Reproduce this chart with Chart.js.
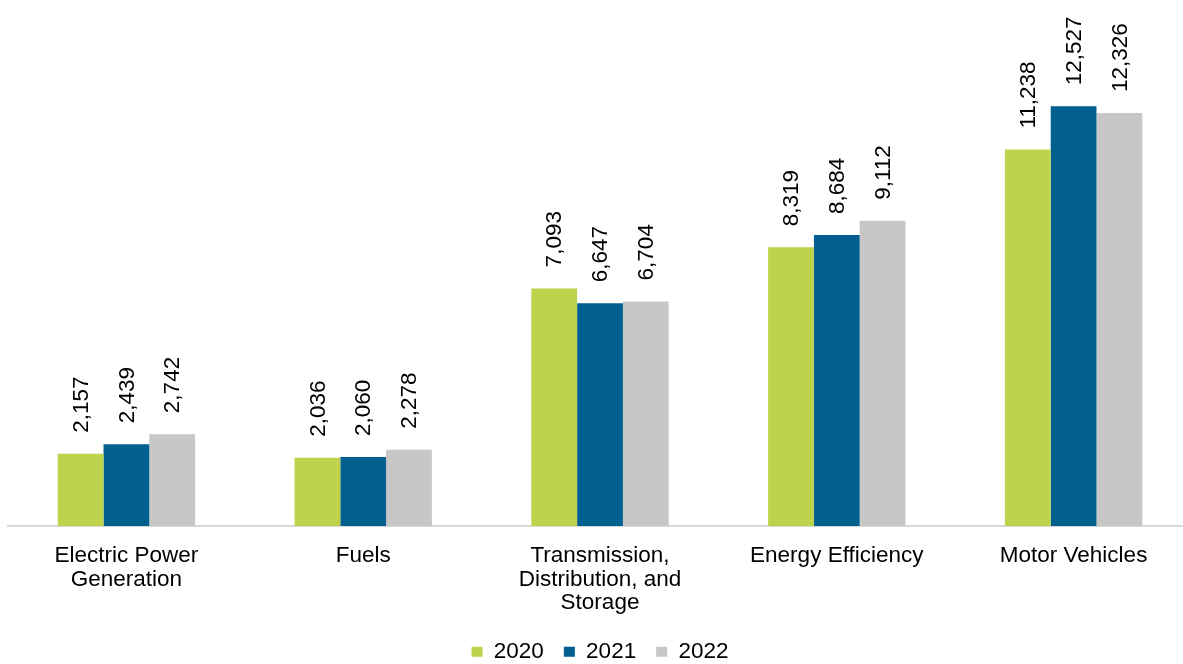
<!DOCTYPE html>
<html>
<head>
<meta charset="utf-8">
<script src="https://cdn.jsdelivr.net/npm/chart.js@4"></script>
<style>
  html, body { margin: 0; padding: 0; background: #fff; overflow: hidden; }
  #wrap { width: 1183px; height: 664px; overflow: hidden; position: relative; }
  #box { position: absolute; left: 0; top: 0; width: 1200px; height: 673px; }
</style>
</head>
<body>
<div id="wrap"><div id="box"><canvas id="chart"></canvas></div></div>
<script>
var categories = [
  ["Electric Power", "Generation"],
  "Fuels",
  ["Transmission,", "Distribution, and", "Storage"],
  "Energy Efficiency",
  "Motor Vehicles"
];
var years = ["2020", "2021", "2022"];
var values2020 = [2157, 2036, 7093, 8319, 11238];
var values2021 = [2439, 2060, 6647, 8684, 12527];
var values2022 = [2742, 2278, 6704, 9112, 12326];
var colors = ["#BDD34B", "#01608F", "#C8C7C6"];

// value labels, rotated, above each bar
var barLabels = {
  id: 'barLabels',
  afterDatasetsDraw: function (chart) {
    var ctx = chart.ctx;
    ctx.save();
    ctx.font = '22.5px "Liberation Sans", Arial, sans-serif';
    ctx.fillStyle = '#000';
    ctx.textAlign = 'left';
    ctx.textBaseline = 'middle';
    chart.data.datasets.forEach(function (ds, i) {
      chart.getDatasetMeta(i).data.forEach(function (bar, j) {
        ctx.save();
        ctx.translate(bar.x + 1, bar.y - 21);
        ctx.rotate(-Math.PI / 2);
        ctx.fillText(ds.data[j].toLocaleString('en-US'), 0, 0);
        ctx.restore();
      });
    });
    ctx.restore();
  }
};

var ctx = document.getElementById("chart");

new Chart(ctx, {
  type: 'bar',
  data: {
    labels: categories,
    datasets: [
      { label: years[0], data: values2020, backgroundColor: colors[0] },
      { label: years[1], data: values2021, backgroundColor: colors[1] },
      { label: years[2], data: values2022, backgroundColor: colors[2] }
    ]
  },
  options: {
    responsive: true,
    maintainAspectRatio: false,
    animation: false,
    devicePixelRatio: 1,
    layout: { padding: { left: 8, right: 8, top: 57, bottom: 0 } },
    datasets: {
      bar: { categoryPercentage: 0.58, barPercentage: 1.0, borderWidth: 0 }
    },
    plugins: {
      legend: {
        position: 'bottom',
        labels: {
          boxWidth: 11,
          boxHeight: 10,
          padding: 20,
          color: '#000',
          font: { family: '"Liberation Sans", Arial, sans-serif', size: 22.5 }
        }
      },
      tooltip: { enabled: false }
    },
    scales: {
      y: {
        display: false,
        beginAtZero: true,
        min: 0,
        max: 14000
      },
      x: {
        grid: { display: false },
        border: { display: true, color: '#D9D9D9', width: 2 },
        ticks: {
          color: '#000',
          padding: 10,
          maxRotation: 0,
          autoSkip: false,
          font: { family: '"Liberation Sans", Arial, sans-serif', size: 22.5, lineHeight: 1.05 }
        },
        afterFit: function (scale) { scale.height = 94.5; }
      }
    }
  },
  plugins: [barLabels]
});
</script>
</body>
</html>
